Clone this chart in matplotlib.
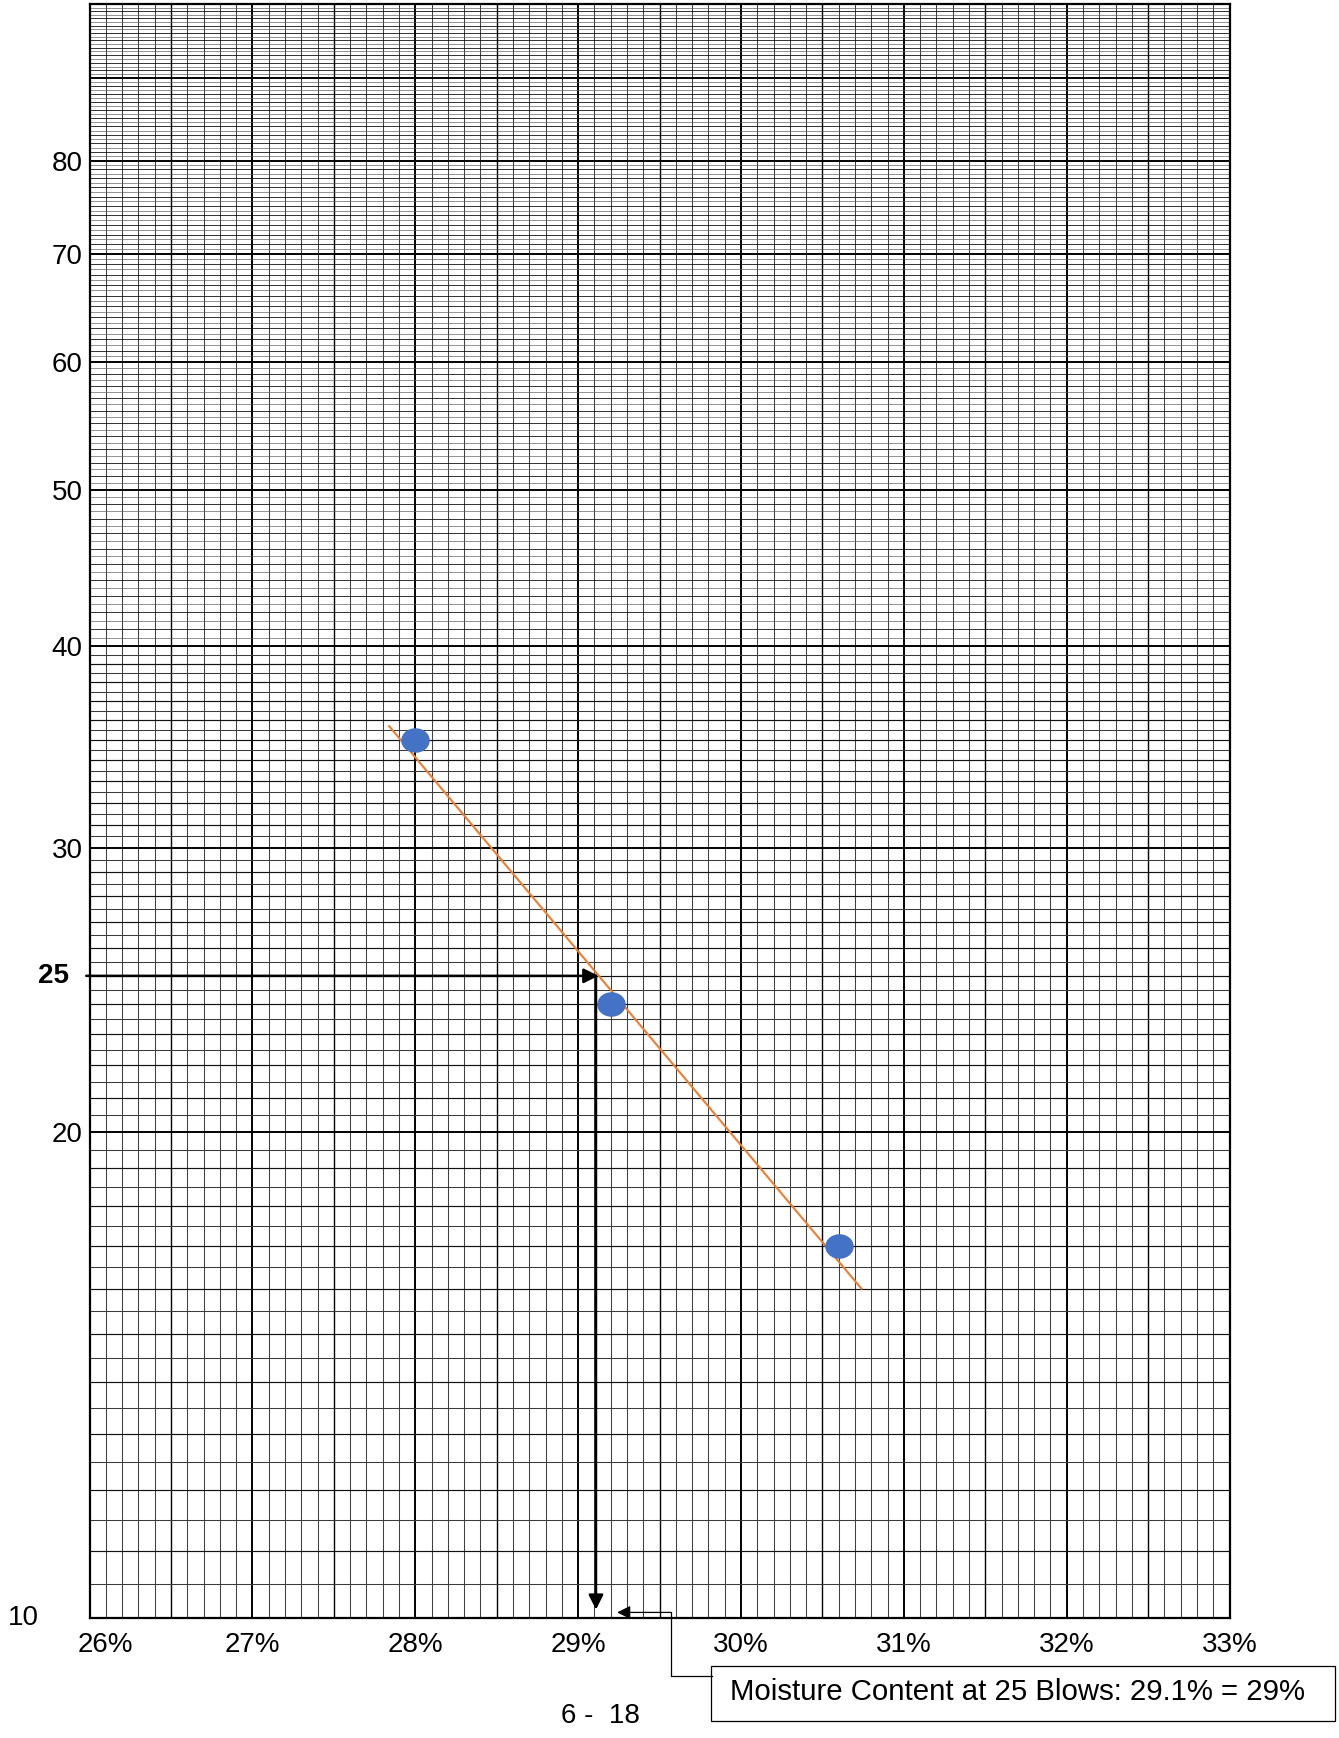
import numpy as np
import matplotlib
matplotlib.use("Agg")
import matplotlib.pyplot as plt
from matplotlib.path import Path
from matplotlib.transforms import Affine2D, ScaledTranslation
from matplotlib.patches import Rectangle

plt.rcParams['font.family'] = ['Liberation Sans', 'DejaVu Sans']

# liquid limit test: moisture content (%) vs number of blows
moisture = [28.0, 29.2, 30.6]
blows = [35, 24, 17]

# flow line as drawn on the sheet (end points)
flow_mc = [27.84, 30.74]
flow_blows = [35.7, 16.0]

# value read at 25 blows
blows_25 = 25
mc_25 = 29.11

x_ticks = [26, 27, 28, 29, 30, 31, 32, 33]
x_labels = ['26%', '27%', '28%', '29%', '30%', '31%', '32%', '33%']
y_ticks = [20, 30, 40, 50, 60, 70, 80]
y_labels = ['20', '30', '40', '50', '60', '70', '80']

W, H = 1339, 1738
fig = plt.figure(figsize=(W / 100, H / 100), dpi=100)
ax = fig.add_axes([89.5 / W, 1 - 1618 / H, 1140 / W, 1613.7 / H])
ax.set_yscale('log')
ax.set_xlim(26, 33)
ax.set_ylim(10, 100)

# semi-log graph paper
for x in np.arange(26, 33.001, 0.1):
    xr = round(x, 1)
    if abs(xr - round(xr)) < 1e-6:
        ax.axvline(xr, color='black', lw=1.4, zorder=1)
    elif abs(xr * 2 - round(xr * 2)) < 1e-6:
        ax.axvline(xr, color='black', lw=1.0, zorder=1)
    else:
        ax.axvline(xr, color='#404040', lw=0.75, zorder=1)
for y in np.arange(10, 100.001, 0.5):
    thin = y >= 40  # lines crowd together higher up the log cycle
    if y % 10 == 0:
        ax.axhline(y, color='black', lw=1.4, zorder=1)
    elif y % 1 == 0:
        ax.axhline(y, color='#111111', lw=0.6 if thin else 0.85, zorder=1)
    else:
        ax.axhline(y, color='#555555' if thin else '#3a3a3a',
                   lw=0.45 if thin else 0.75, zorder=1)

for s in ax.spines.values():
    s.set_linewidth(1.6)

ax.set_xticks(x_ticks)
ax.set_xticklabels(x_labels, fontsize=20)
ax.set_yticks(y_ticks)
ax.set_yticklabels(y_labels, fontsize=20)
ax.yaxis.set_minor_locator(matplotlib.ticker.NullLocator())
ax.tick_params(axis='both', length=0)
ax.tick_params(axis='x', pad=10)
ax.tick_params(axis='y', pad=5)
# first label sits a bit right of its line on the sheet
lab0 = ax.get_xticklabels()[0]
lab0.set_transform(lab0.get_transform() + ScaledTranslation(0.16, 0, fig.dpi_scale_trans))

ax.text(-0.0715, 10, '10', transform=ax.get_yaxis_transform(), fontsize=20,
        ha='left', va='center')
ax.text(-0.018, blows_25, '25', transform=ax.get_yaxis_transform(), fontsize=20,
        fontweight='bold', ha='right', va='center')

# flow line and points
ax.plot(flow_mc, flow_blows, color='#ED7D31', lw=1.5, zorder=3)
oval = Path.unit_circle().transformed(Affine2D().scale(1.17, 1.0))
ax.plot(moisture, blows, ls='none', marker=oval, ms=19.5, color='#4472C4',
        mec='#4472C4', zorder=4)

# read-off arrows
arrow = dict(arrowstyle='-|>', color='black', lw=1.8, mutation_scale=22,
             shrinkA=0, shrinkB=0)
ax.annotate('', xy=(mc_25 + 0.015, blows_25), xytext=(25.98, blows_25),
            arrowprops=arrow, zorder=5, annotation_clip=False)
ax.annotate('', xy=(mc_25, 10.12), xytext=(mc_25, blows_25),
            arrowprops=arrow, zorder=5, annotation_clip=False)

# callout
ax.plot([29.57, 29.57, 29.82], [10.08, 9.2, 9.2], color='black', lw=0.9,
        clip_on=False, zorder=5)
ax.annotate('', xy=(29.24, 10.08), xytext=(29.57, 10.08),
            arrowprops=dict(arrowstyle='-|>', color='black', lw=0.9,
                            mutation_scale=20, shrinkA=0, shrinkB=0),
            zorder=5, annotation_clip=False)
fig.patches.append(Rectangle((710.5 / W, 1 - 1721 / H), 624 / W, 55 / H,
                             transform=fig.transFigure, fill=False,
                             edgecolor='black', lw=0.9))
fig.text(730 / W, 1 - 1692 / H, 'Moisture Content at 25 Blows: 29.1% = 29%',
         fontsize=21.2, ha='left', va='center')

fig.text(600 / W, 1 - 1716 / H, '6 -  18', fontsize=20, ha='center', va='center')

fig.savefig('out.png', dpi=100)
